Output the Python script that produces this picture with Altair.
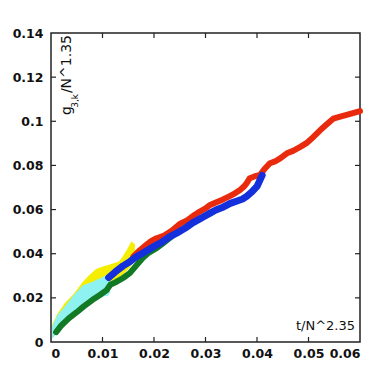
import altair as alt
import pandas as pd

# ---- data ----
red_x = [0.0160, 0.0173, 0.0185, 0.0195, 0.0205, 0.0220, 0.0235, 0.0250, 0.0265, 0.0280, 0.0289,
         0.0300, 0.0309, 0.0320, 0.0333, 0.0348, 0.0358, 0.0367, 0.0375, 0.0380, 0.0386, 0.0395,
         0.0406, 0.0415, 0.0425, 0.0435, 0.0445, 0.0458, 0.0470, 0.0485, 0.0496, 0.0510, 0.0522,
         0.0535, 0.0548, 0.0560, 0.0574, 0.0588, 0.0600]
red_y = [0.0387, 0.0417, 0.0440, 0.0458, 0.0470, 0.0482, 0.0505, 0.0535, 0.0552, 0.0578, 0.0591,
         0.0605, 0.0621, 0.0632, 0.0645, 0.0662, 0.0675, 0.0689, 0.0705, 0.0720, 0.0742, 0.0750,
         0.0757, 0.0785, 0.0810, 0.0818, 0.0832, 0.0855, 0.0866, 0.0885, 0.0901, 0.0930, 0.0958,
         0.0985, 0.1012, 0.1020, 0.1029, 0.1038, 0.1046]

blue_x = [0.0112, 0.0125, 0.0140, 0.0153, 0.0165, 0.0180, 0.0199, 0.0215, 0.0230, 0.0244, 0.0260,
          0.0275, 0.0289, 0.0300, 0.0309, 0.0320, 0.0335, 0.0348, 0.0360, 0.0372, 0.0380, 0.0390,
          0.0400, 0.0406, 0.0410]
blue_y = [0.0292, 0.0318, 0.0345, 0.0364, 0.0385, 0.0405, 0.0432, 0.0452, 0.0476, 0.0493, 0.0515,
          0.0540, 0.0558, 0.0572, 0.0584, 0.0598, 0.0612, 0.0628, 0.0638, 0.0648, 0.0660, 0.0680,
          0.0705, 0.0735, 0.0755]

green_x = [0.0010, 0.0020, 0.0035, 0.0050, 0.0063, 0.0080, 0.0095, 0.0108, 0.0115, 0.0125, 0.0140,
           0.0153, 0.0165, 0.0178, 0.0190, 0.0205, 0.0218, 0.0230, 0.0240]
green_y = [0.0045, 0.0075, 0.0108, 0.0135, 0.0160, 0.0190, 0.0213, 0.0235, 0.0259, 0.0270, 0.0290,
           0.0312, 0.0345, 0.0380, 0.0405, 0.0425, 0.0448, 0.0470, 0.0490]

yellow_x = [0.0005, 0.0015, 0.0030, 0.0045, 0.0063, 0.0075, 0.0089, 0.0100, 0.0115, 0.0125, 0.0134,
            0.0142, 0.0150, 0.0157, 0.0160]
yellow_lo = [0.0040, 0.0070, 0.0110, 0.0150, 0.0190, 0.0210, 0.0230, 0.0250, 0.0275, 0.0290, 0.0305,
             0.0320, 0.0340, 0.0365, 0.0390]
yellow_hi = [0.0075, 0.0125, 0.0175, 0.0210, 0.0265, 0.0295, 0.0325, 0.0335, 0.0345, 0.0352, 0.0360,
             0.0385, 0.0415, 0.0445, 0.0440]

cyan_x = [0.0005, 0.0014, 0.0030, 0.0045, 0.0063, 0.0080, 0.0095, 0.0108, 0.0112]
cyan_lo = [0.0032, 0.0055, 0.0100, 0.0135, 0.0168, 0.0190, 0.0213, 0.0215, 0.0225]
cyan_hi = [0.0070, 0.0115, 0.0160, 0.0205, 0.0250, 0.0265, 0.0281, 0.0296, 0.0290]

x_labels = [0, 0.01, 0.02, 0.03, 0.04, 0.05, 0.06]
y_labels = [0, 0.02, 0.04, 0.06, 0.08, 0.10, 0.12, 0.14]
x_ticks = [0.01, 0.02, 0.03, 0.04, 0.05]
y_ticks = [0.02, 0.04, 0.06, 0.08, 0.10, 0.12]
x_title = "t/N^2.35"
y_title_main = "/N^1.35"
y_title_sub = "3,k"
y_title_g = "g"

# ---- chart ----
W, H = 309, 309
xs = alt.Scale(domain=[0, 0.06], nice=False, zero=False)
ys = alt.Scale(domain=[0, 0.14], nice=False, zero=False)
lab_font = "DejaVu Sans"

x_axis = alt.Axis(values=x_labels, format="~g", title=None,
                  ticks=False, tickSize=0, domain=False, grid=False, labelFont=lab_font,
                  labelFontWeight="bold", labelFontSize=12.5, labelColor="#111", labelPadding=5)
y_axis = alt.Axis(values=y_labels, format="~g", title=None,
                  ticks=False, tickSize=0, domain=False, grid=False, labelFont=lab_font,
                  labelFontWeight="bold", labelFontSize=12.5, labelColor="#111", labelPadding=8)

yel = pd.DataFrame({"x": yellow_x, "lo": yellow_lo, "hi": yellow_hi})
cya = pd.DataFrame({"x": cyan_x, "lo": cyan_lo, "hi": cyan_hi})
red = pd.DataFrame({"x": red_x, "y": red_y})
blu = pd.DataFrame({"x": blue_x, "y": blue_y})
grn = pd.DataFrame({"x": green_x, "y": green_y})

X = lambda f: alt.X(f, scale=xs, axis=x_axis)
Y = lambda f: alt.Y(f, scale=ys, axis=y_axis)

yellow_layer = alt.Chart(yel).mark_area(color="#f6ee00", stroke="#f6ee00", strokeWidth=3).encode(
    x=X("x:Q"), y=Y("lo:Q"), y2="hi:Q")
cyan_layer = alt.Chart(cya).mark_area(color="#8ef2f0", stroke="#8ef2f0", strokeWidth=3).encode(
    x=X("x:Q"), y=Y("lo:Q"), y2="hi:Q")

def line(df, color, w):
    return alt.Chart(df).mark_line(color=color, strokeWidth=w, strokeJoin="round",
                                   strokeCap="round").encode(x=X("x:Q"), y=Y("y:Q"))

green_layer = line(grn, "#127a24", 6)
red_layer = line(red, "#ea2a0c", 6)
blue_layer = line(blu, "#1430dc", 7)

tick_col = "#222"
xt = pd.DataFrame({"x": x_ticks})
yt = pd.DataFrame({"y": y_ticks})
tb = alt.Chart(xt).mark_rule(color=tick_col, strokeWidth=1.2).encode(
    x=X("x:Q"), y=alt.value(H), y2=alt.value(H - 5))
tt = alt.Chart(xt).mark_rule(color=tick_col, strokeWidth=1.2).encode(
    x=X("x:Q"), y=alt.value(0), y2=alt.value(5))
tl = alt.Chart(yt).mark_rule(color=tick_col, strokeWidth=1.2).encode(
    y=Y("y:Q"), x=alt.value(0), x2=alt.value(5))
tr = alt.Chart(yt).mark_rule(color=tick_col, strokeWidth=1.2).encode(
    y=Y("y:Q"), x=alt.value(W), x2=alt.value(W - 5))

xtitle = alt.Chart(pd.DataFrame({"t": [x_title]})).mark_text(
    font=lab_font, fontSize=13, align="right", baseline="alphabetic", color="#111").encode(
    x=alt.value(304), y=alt.value(297), text="t:N")
ytitle_main = alt.Chart(pd.DataFrame({"t": [y_title_main]})).mark_text(
    font=lab_font, fontSize=14, angle=270, align="right", baseline="alphabetic", color="#111").encode(
    x=alt.value(20), y=alt.value(2), text="t:N")
ytitle_sub = alt.Chart(pd.DataFrame({"t": [y_title_sub]})).mark_text(
    font=lab_font, fontSize=9, angle=270, align="right", baseline="alphabetic", color="#111").encode(
    x=alt.value(27), y=alt.value(61), text="t:N")
ytitle_g = alt.Chart(pd.DataFrame({"t": [y_title_g]})).mark_text(
    font=lab_font, fontSize=14, angle=270, align="right", baseline="alphabetic", color="#111").encode(
    x=alt.value(20), y=alt.value(73), text="t:N")

chart = alt.layer(
    yellow_layer, cyan_layer, green_layer, red_layer, blue_layer,
    tb, tt, tl, tr, xtitle, ytitle_main, ytitle_sub, ytitle_g
).properties(
    width=W, height=H,
    autosize=alt.AutoSizeParams(type="none"),
    padding={"left": 43, "top": 25, "right": 14, "bottom": 30},
    background="white",
).configure_view(stroke="#222", strokeWidth=1.5)

chart.save("out.html", embed_options={"renderer": "svg", "actions": False})
